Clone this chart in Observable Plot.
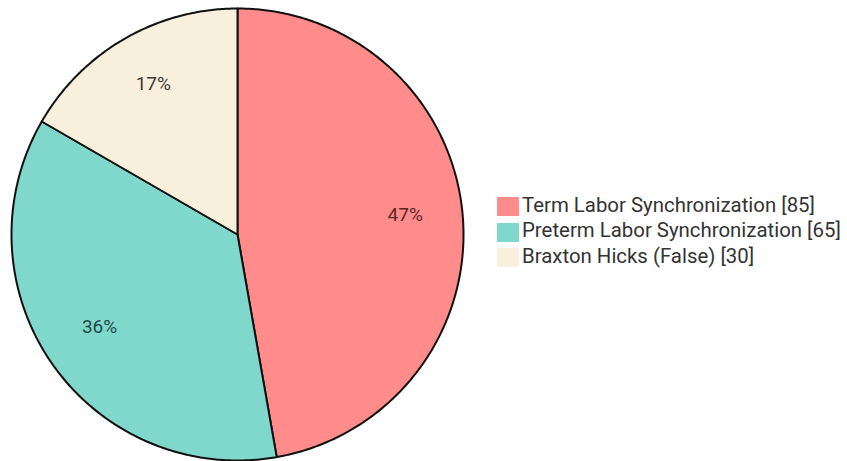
<!DOCTYPE html>
<html>
<head>
<meta charset="utf-8">
<script src="https://cdn.jsdelivr.net/npm/d3@7"></script>
<script src="https://cdn.jsdelivr.net/npm/@observablehq/plot@0.6"></script>
<style>
  html, body { margin: 0; padding: 0; background: #fff; }
  #wrap { position: relative; width: 847px; height: 461px; font-family: Roboto, sans-serif; }
  #legend { position: absolute; left: 497px; top: 192px; font-size: 20.4px; color: #333; }
  .row { display: flex; align-items: center; height: 25.5px; white-space: nowrap; }
  .sw { width: 22px; height: 19px; margin-right: 3px; position: relative; top: 2px; }
</style>
</head>
<body>
<div id="wrap"><div id="chart"></div><div id="legend"></div></div>
<script>
const categories = ["Term Labor Synchronization", "Preterm Labor Synchronization", "Braxton Hicks (False)"];
const values = [85, 65, 30];
const colors = ["#FF8B8A", "#80D8CC", "#F8EFDC"];
const labelColors = ["#5b2828", "#1e4a45", "#3d3a35"];

const total = d3.sum(values);
const pie = d3.pie().sort(null).value(d => d)(values);

// polygon points for each slice, in unit-circle data space (y up)
const pts = [];
pie.forEach((p, i) => {
  const n = Math.max(2, Math.ceil((p.endAngle - p.startAngle) / (Math.PI / 360)));
  pts.push({k: i, x: 0, y: 0});
  for (let j = 0; j <= n; j++) {
    const a = p.startAngle + (p.endAngle - p.startAngle) * j / n;
    pts.push({k: i, x: Math.sin(a), y: Math.cos(a)});
  }
  pts.push({k: i, x: 0, y: 0});
});

const labels = pie.map((p, i) => {
  const a = (p.startAngle + p.endAngle) / 2;
  const rr = 0.745;
  return {k: i, x: rr * Math.sin(a), y: rr * Math.cos(a) + 0.02, t: Math.round(values[i] / total * 100) + "%"};
});

const chart = Plot.plot({
  width: 847,
  height: 461,
  marginLeft: 11,
  marginRight: 384,
  marginTop: 8,
  marginBottom: 1,
  x: {domain: [-1, 1], axis: null},
  y: {domain: [-1, 1], axis: null},
  style: {fontFamily: "Roboto, sans-serif", background: "#fff"},
  marks: [
    Plot.line(pts, {x: "x", y: "y", z: "k", fill: d => colors[d.k], stroke: "#111", strokeWidth: 2, strokeLinejoin: "round", curve: "linear"}),
    Plot.text(labels, {x: "x", y: "y", text: "t", fill: d => labelColors[d.k], fontSize: 19})
  ]
});
document.getElementById("chart").appendChild(chart);

const legend = document.getElementById("legend");
categories.forEach((c, i) => {
  const row = document.createElement("div");
  row.className = "row";
  const sw = document.createElement("div");
  sw.className = "sw";
  sw.style.background = colors[i];
  const tx = document.createElement("span");
  tx.textContent = `${c} [${values[i]}]`;
  row.appendChild(sw); row.appendChild(tx);
  legend.appendChild(row);
});
</script>
</body>
</html>
